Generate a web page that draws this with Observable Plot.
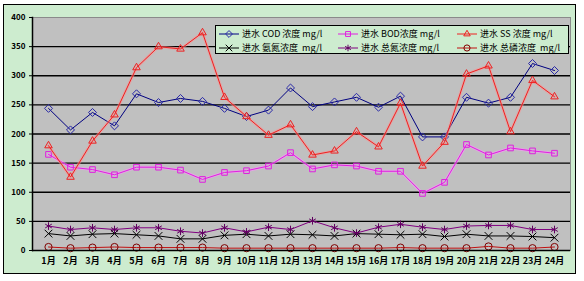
<!DOCTYPE html>
<html><head><meta charset="utf-8">
<script src="https://cdn.jsdelivr.net/npm/d3@7"></script>
<script src="https://cdn.jsdelivr.net/npm/@observablehq/plot@0.6"></script>
<style>
body{margin:0;background:#fff;}
#wrap{position:relative;width:584px;height:281px;overflow:hidden;background:#fff;}
#panel{position:absolute;left:3px;top:4px;width:573px;height:270px;background:#cdeccf;border:1.5px solid #000;box-sizing:border-box;}
#chart{position:absolute;left:0;top:0;}
#legend{position:absolute;left:215px;top:25px;width:354px;height:29px;border:1px solid #000;background:#cdeccf;box-sizing:border-box;font:9px "Noto Sans CJK SC";color:#000;}
.item{position:absolute;display:flex;align-items:center;white-space:pre;height:13px;}
.item svg{margin-right:3px;}
</style></head>
<body>
<div id="wrap"><div id="panel"></div><div id="chart"></div><div id="legend"></div></div>
<script>
const months = ["1月","2月","3月","4月","5月","6月","7月","8月","9月","10月","11月","12月","13月","14月","15月","16月","17月","18月","19月","20月","21月","22月","23月","24月"];
const cod  = [244,207,237,214,269,254,261,256,244,230,241,279,247,255,263,246,265,195,195,263,253,263,321,309];
const bod  = [165,143,139,130,143,143,138,122,134,137,145,168,140,147,145,136,136,98,117,182,164,176,171,167];
const ss   = [180,126,188,233,314,350,346,374,263,230,198,216,164,171,204,178,253,145,186,303,317,204,292,264];
const nh3n = [29,25,28,29,27,25,20,20,26,28,25,28,27,25,29,28,27,28,24,28,25,25,24,22];
const tn   = [42,36,39,36,39,39,33,30,39,32,40,36,51,39,30,40,45,40,36,42,43,43,36,36];
const tp   = [6,4,5,6,5,5,5,5,4,4,4,4,4,4,4,4,5,4,4,4,7,4,4,6];
const seriesNames = ["进水 COD 浓度 mg/l","进水 BOD浓度 mg/l","进水 SS 浓度 mg/l","进水 氨氮浓度  mg/l","进水 总氮浓度 mg/l","进水 总磷浓度  mg/l"];
const yTicks = [0,50,100,150,200,250,300,350,400];

const seriesValues = [cod, bod, ss, nh3n, tn, tp];
const styles = [
  {color:"#000080", mark:"#2828a8", symbol:"diamond2", d3s:d3.symbolDiamond2},
  {color:"#e020e0", mark:"#e020e0", symbol:"square2", d3s:d3.symbolSquare2, halo:"#ff90ff"},
  {color:"#ee2020", mark:"#ee2020", symbol:"triangle2", d3s:d3.symbolTriangle2, halo:"#ff9090"},
  {color:"#000000", mark:"#000000", symbol:"times", d3s:d3.symbolTimes},
  {color:"#800080", mark:"#600060", symbol:"asterisk", d3s:d3.symbolAsterisk},
  {color:"#c01010", mark:"#800000", symbol:"circle", d3s:d3.symbolCircle}
];

const marks = [
  Plot.frame({fill:"#c0c0c0", stroke:"#8a8a8a"}),
  Plot.ruleY(yTicks.filter(v => v > 0 && v < 400), {stroke:"#000", strokeWidth:1.3})
];
seriesNames.forEach((name, k) => {
  const rows = months.map((m, i) => ({month:m, value:seriesValues[k][i], series:name}));
  const st = styles[k];
  if (st.halo) marks.push(Plot.line(rows, {x:"month", y:"value", stroke:st.halo, strokeWidth:3, strokeOpacity:0.5}));
  marks.push(Plot.line(rows, {x:"month", y:"value", stroke:st.color, strokeWidth:1}));
  marks.push(Plot.dot(rows, {x:"month", y:"value", symbol:st.symbol, stroke:st.mark, fill:"none", r:3.6, strokeWidth:1}));
});
marks.push(Plot.ruleY([0], {stroke:"#000", strokeWidth:1.5}));
marks.push(Plot.frame({anchor:"left", stroke:"#000", strokeWidth:1.5}));
marks.push(Plot.axisY({ticks:yTicks, tickSize:3, tickPadding:4, fontSize:8, fontWeight:"bold", label:null}));
marks.push(Plot.axisX({tickSize:0, tickPadding:7, fontSize:9, fontWeight:"bold", label:null}));

const chart = Plot.plot({
  width:584, height:281,
  marginLeft:32, marginRight:14, marginTop:17, marginBottom:31,
  style:{background:"transparent", fontFamily:"'Noto Sans CJK SC', sans-serif", color:"#000"},
  x:{type:"point", domain:months, padding:0.5, label:null},
  y:{domain:[0,400], label:null},
  marks
});
document.getElementById("chart").appendChild(chart);

// legend
const legend = d3.select("#legend");
const colX = [3, 122, 241];
const rowY = [1, 15];
seriesNames.forEach((name, k) => {
  const st = styles[k];
  const item = legend.append("div").attr("class","item")
    .style("left", colX[k % 3] + "px").style("top", rowY[Math.floor(k / 3)] + "px");
  const svg = item.append("svg").attr("width", 20).attr("height", 10);
  svg.append("line").attr("x1",0).attr("x2",20).attr("y1",5).attr("y2",5).attr("stroke", st.color).attr("stroke-width",1);
  svg.append("path").attr("d", d3.symbol(st.d3s, 30)()).attr("transform","translate(10,5)")
    .attr("fill","none").attr("stroke", st.mark).attr("stroke-width",1);
  item.append("span").text(name);
});
</script>
</body></html>
